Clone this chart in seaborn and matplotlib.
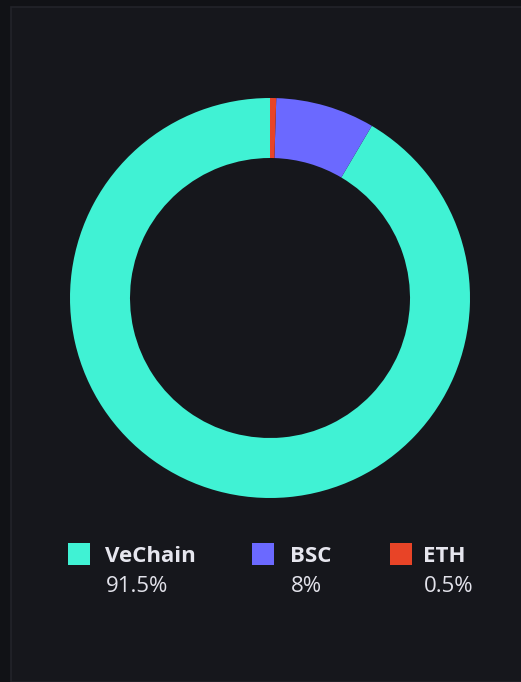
import matplotlib
matplotlib.use("Agg")
import matplotlib.pyplot as plt
import seaborn as sns
from matplotlib.patches import Rectangle

# Data
chains = ["VeChain", "BSC", "ETH"]
shares = [91.5, 8.0, 0.5]
share_labels = ["91.5%", "8%", "0.5%"]
colors = ["#40F2D4", "#6B69FF", "#E84427"]

sns.set_theme(style="dark")
plt.rcParams["font.family"] = ["Open Sans", "DejaVu Sans"]

W, H = 521, 682
fig = plt.figure(figsize=(W / 100, H / 100), dpi=100)
fig.patch.set_facecolor("#111216")

# panel
fig.patches.append(Rectangle((11 / W, 0), 1, (H - 7) / H, transform=fig.transFigure,
                             facecolor="#16171C", edgecolor="#23242A", linewidth=1.2, zorder=-5))

ax = fig.add_axes([70 / W, (H - 498) / H, 400 / W, 400 / H])
ax.set_zorder(5)
ax.set_facecolor("none")
ax.pie(shares, colors=sns.color_palette(colors), startangle=90, counterclock=True,
       radius=1, wedgeprops=dict(width=0.3, linewidth=0))
ax.set_xlim(-1, 1)
ax.set_ylim(-1, 1)
ax.set_aspect("equal")
ax.axis("off")

sq_x = [68, 252, 390]
txt_x = [105, 290, 423]
for i, name in enumerate(chains):
    fig.patches.append(Rectangle((sq_x[i] / W, (H - 565) / H), 22 / W, 22 / H,
                                 transform=fig.transFigure, facecolor=colors[i],
                                 edgecolor="none", zorder=2))
    fig.text(txt_x[i] / W, (H - 562) / H, name, fontsize=16, fontweight="bold",
             color="#E6E6EE", ha="left", va="baseline")
    fig.text((txt_x[i] + 1) / W, (H - 591.5) / H, share_labels[i], fontsize=16,
             color="#E2E2EA", ha="left", va="baseline")

fig.savefig("out.png", dpi=100, facecolor=fig.get_facecolor())
